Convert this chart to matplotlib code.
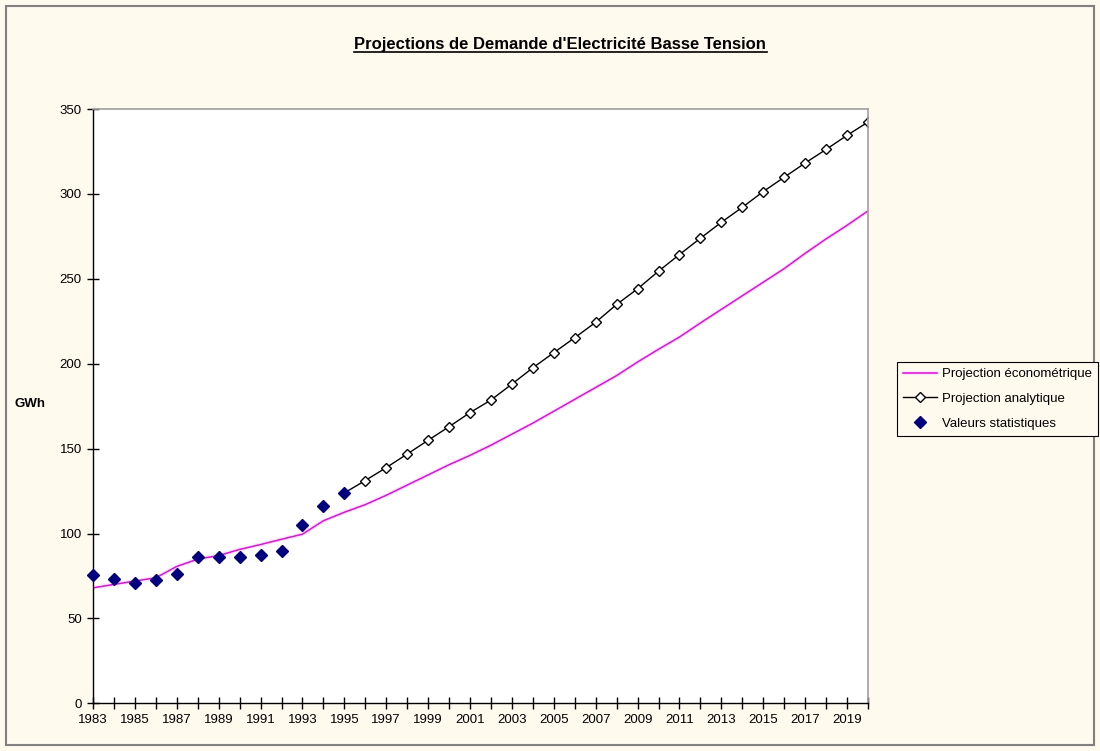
import matplotlib.pyplot as plt
from matplotlib.patches import Rectangle

plt.rcParams['font.family'] = ['Liberation Sans', 'DejaVu Sans']

years = list(range(1983, 2021))

# projection économétrique (1983-2020)
econometrique = [68.0, 70.0, 72.0, 73.9, 80.6, 84.9, 87.0, 90.6, 93.5, 96.6,
                 99.6, 107.5, 112.5, 117.0, 122.5, 128.5, 134.5, 140.5, 146.0, 152.0,
                 158.5, 165.0, 172.0, 179.0, 186.0, 193.0, 201.0, 208.5, 215.7, 224.0,
                 232.0, 240.0, 248.0, 256.0, 265.0, 273.5, 281.5, 290.0]

# projection analytique (1995-2020)
annees_analytique = list(range(1995, 2021))
analytique = [123.9, 131.2, 138.8, 146.8, 154.9, 162.9, 171.2, 178.6, 188.0, 197.6,
              206.5, 215.3, 224.4, 234.9, 244.1, 254.5, 264.3, 273.9, 283.3, 292.1,
              301.4, 309.8, 318.2, 326.2, 334.5, 342.3]

# valeurs statistiques (1983-1995)
annees_stat = list(range(1983, 1996))
statistiques = [75.5, 73.1, 70.9, 72.4, 76.1, 86.2, 86.2, 86.2, 87.1, 89.4,
                104.9, 116.1, 123.9]

bg = '#FFF9EE'

fig = plt.figure(figsize=(11, 7.51), dpi=100, facecolor=bg)
fig.patches.append(Rectangle((6 / 1100, 6 / 751), 1088 / 1100, 739 / 751,
                             transform=fig.transFigure, fill=False,
                             edgecolor='#808080', linewidth=1.5))

ax = fig.add_axes([93 / 1100, 1 - 703.3 / 751, 775 / 1100, 594.3 / 751])
ax.set_facecolor('white')

ax.plot(years, econometrique, color='#FF00FF', linewidth=1.2,
        label='Projection économétrique')
ax.plot(annees_analytique, analytique, color='black', linewidth=1.0,
        marker='D', markersize=5.2, markerfacecolor='white',
        markeredgecolor='black', markeredgewidth=1.0,
        label='Projection analytique')
ax.plot(annees_stat, statistiques, linestyle='none', marker='D',
        markersize=6, color='#000080', label='Valeurs statistiques',
        zorder=5, clip_on=False)

ax.set_xlim(1983, 2020)
ax.set_ylim(0, 350)
ax.set_yticks(range(0, 351, 50))
ax.set_xticks(years)
ax.set_xticklabels([str(y) if (y - 1983) % 2 == 0 else '' for y in years])
ax.tick_params(direction='inout', length=8, width=1, labelsize=9.5,
               colors='black', pad=4)

for side in ('top', 'right'):
    ax.spines[side].set_color('#A0A0A0')
    ax.spines[side].set_linewidth(1.2)
for side in ('left', 'bottom'):
    ax.spines[side].set_color('black')
    ax.spines[side].set_linewidth(1.0)

fig.text(30 / 1100, 1 - 404 / 751, 'GWh', fontsize=9.5, fontweight='bold',
         ha='center', va='center')

# titre souligné
fig.text(560 / 1100, 1 - 44 / 751,
         "Projections de Demande d'Electricité Basse Tension",
         fontsize=12, fontweight='bold', ha='center', va='center')
fig.add_artist(plt.Line2D([354 / 1100, 767 / 1100],
                          [1 - 51.5 / 751, 1 - 51.5 / 751],
                          color='black', linewidth=1.2))

leg = fig.legend(loc='upper left', bbox_to_anchor=(897 / 1100, 1 - 362 / 751),
                 fontsize=9.5, frameon=True, fancybox=False, edgecolor='black',
                 facecolor=bg, framealpha=1, handlelength=2.6,
                 handletextpad=0.35, borderpad=0.45, labelspacing=0.95,
                 borderaxespad=0)
leg.get_frame().set_linewidth(0.8)

fig.savefig('out.png', dpi=100, facecolor=bg)
plt.close(fig)
